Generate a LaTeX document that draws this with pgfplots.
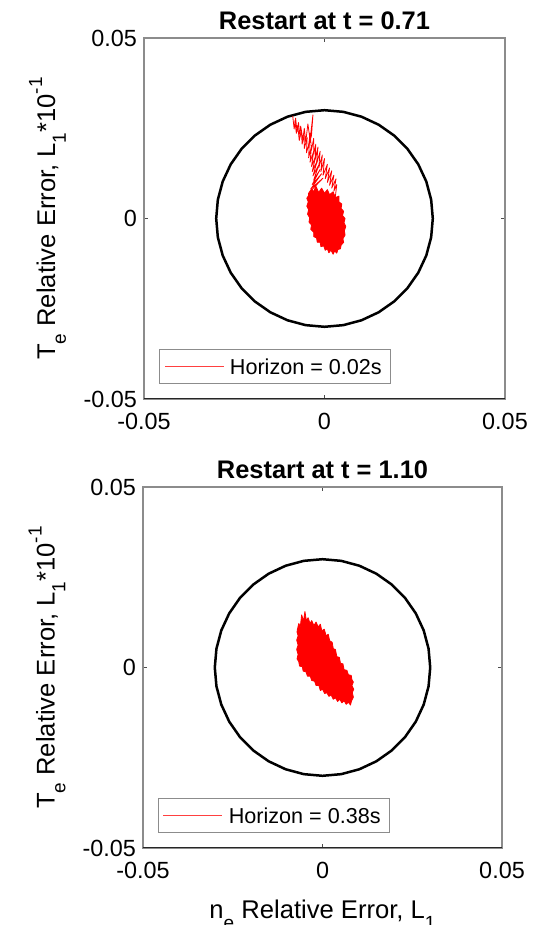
\documentclass[border=0pt]{standalone}
\usepackage{pgfplots}
\pgfplotsset{compat=1.18}
\usepackage{fontspec}
\setmainfont{Liberation Sans}
\definecolor{legred}{rgb}{1,0.25,0.25}

\newcommand{\lsub}[1]{\raisebox{-0.42em}{\fontsize{9.5}{10}\selectfont #1}}
\newcommand{\lsup}[1]{\raisebox{0.5em}{\fontsize{9.5}{10}\selectfont #1}}

\pgfplotsset{
  myaxis/.style={
    scale only axis,
    anchor=south west,
    scaled ticks=false,
    xmin=-0.05,xmax=0.05,ymin=-0.05,ymax=0.05,
    xtick={-0.05,0,0.05}, ytick={-0.05,0,0.05},
    xticklabels={-0.05,0,0.05}, yticklabels={-0.05,0,0.05},
    tick align=inside, major tick length=1.8pt,
    tick style={black!70, line width=0.5pt},
    axis line style={black!45, line width=0.6pt},
    tick label style={font=\fontsize{11.7}{12}\selectfont},
    xticklabel style={yshift=-3.6pt},
    title style={font=\bfseries\fontsize{12.7}{14}\selectfont, at={(axis description cs:0.5,1)}, anchor=base, yshift=-1.8pt},
    ylabel style={font=\fontsize{12.8}{14}\selectfont, at={(axis description cs:-0.2465,0.5)}, anchor=base},
    xlabel style={font=\fontsize{12.8}{14}\selectfont, at={(axis description cs:0.5,-0.1958)}, anchor=base},
    legend style={at={(axis description cs:0.0416,0.0416)}, anchor=south west, draw=black!45, line width=0.5pt,
      inner xsep=2.5pt, inner ysep=2.6pt, nodes={inner sep=2pt, text depth=0pt}, font=\fontsize{10.8}{11}\selectfont,
      /tikz/every odd column/.append style={column sep=1.2pt}},
    legend cell align=left,
    legend image code/.code={\fill[legred, draw=none] (0pt,-0.25pt) rectangle (29.5pt,0.35pt);},
  },
  traj/.style={color=red, draw=red, line width=0.4pt, line join=round, mark=none},
}

\pgfplotstableread{
x y
0.030000 0
0.029544 0.005209
0.028191 0.010261
0.025981 0.015
0.022981 0.019284
0.019284 0.022981
0.015 0.025981
0.010261 0.028191
0.005209 0.029544
0 0.03
-0.005209 0.029544
-0.010261 0.028191
-0.015 0.025981
-0.019284 0.022981
-0.022981 0.019284
-0.025981 0.015
-0.028191 0.010261
-0.029544 0.005209
-0.03 0
-0.029544 -0.005209
-0.028191 -0.010261
-0.025981 -0.015
-0.022981 -0.019284
-0.019284 -0.022981
-0.015 -0.025981
-0.010261 -0.028191
-0.005209 -0.029544
0 -0.03
0.005209 -0.029544
0.010261 -0.028191
0.015 -0.025981
0.019284 -0.022981
0.022981 -0.019284
0.025981 -0.015
0.028191 -0.010261
0.029544 -0.005209
0.030000 0
}\circledata

\begin{document}
\begin{tikzpicture}
\path[use as bounding box] (0,0) rectangle (270.5pt,462.5pt);

% ---------------- top panel ----------------
\begin{axis}[myaxis, at={(72pt,263pt)}, width=180.5pt, height=180.5pt,
  title={Restart at t = 0.71},
  ylabel={T\lsub{e} Relative Error, L\lsub{1}*10\lsup{-1}}]
\addplot[black, line width=1.25pt, forget plot] table {\circledata};
\addplot[traj, fill=red, forget plot] coordinates {
(-0.0044,0.0070) (-0.0036,0.0082) (-0.0030,0.0074) (-0.0024,0.0090) (-0.0016,0.0072)
(-0.0008,0.0084) (0.0000,0.0070) (0.0008,0.0080) (0.0014,0.0066) (0.0024,0.0074)
(0.0030,0.0058) (0.0040,0.0062) (0.0040,0.0046) (0.0048,0.0040) (0.0046,0.0028)
(0.0053,0.0020) (0.0050,0.0008) (0.0057,0.0000) (0.0054,-0.0012) (0.0059,-0.0022)
(0.0055,-0.0034) (0.0057,-0.0046) (0.0051,-0.0056) (0.0053,-0.0066) (0.0046,-0.0074)
(0.0044,-0.0084) (0.0037,-0.0086) (0.0034,-0.0096) (0.0028,-0.0090) (0.0024,-0.0099)
(0.0018,-0.0088) (0.0012,-0.0095) (0.0008,-0.0084) (0.0002,-0.0088) (-0.0002,-0.0076)
(-0.0010,-0.0078) (-0.0012,-0.0066) (-0.0020,-0.0066) (-0.0022,-0.0054) (-0.0030,-0.0050)
(-0.0030,-0.0038) (-0.0038,-0.0030) (-0.0036,-0.0018) (-0.0043,-0.0010) (-0.0041,0.0002)
(-0.0047,0.0012) (-0.0044,0.0024) (-0.0049,0.0034) (-0.0045,0.0046) (-0.0049,0.0056)
(-0.0044,0.0064)
} -- cycle;
\addplot[traj, forget plot] coordinates {
(-0.0082,0.0272) (-0.0078,0.0236) (-0.0074,0.0258) (-0.0070,0.0216) (-0.0064,0.0244)
(-0.0062,0.0206) (-0.0056,0.0232) (-0.0056,0.0194) (-0.0048,0.0224) (-0.0050,0.0182)
(-0.0042,0.0210) (-0.0044,0.0168) (-0.0036,0.0200) (-0.0040,0.0156) (-0.0030,0.0186)
(-0.0036,0.0144) (-0.0024,0.0174) (-0.0034,0.0130) (-0.0020,0.0160) (-0.0032,0.0118)
(-0.0016,0.0148) (-0.0030,0.0106) (-0.0012,0.0136) (-0.0034,0.0094) (-0.0008,0.0124)
(-0.0038,0.0082) (-0.0004,0.0112) (-0.0040,0.0074)
};
\addplot[traj] coordinates {
(-0.0088,0.0284) (-0.0084,0.0248) (-0.0080,0.0278) (-0.0076,0.0240) (-0.0072,0.0266)
(-0.0068,0.0226) (-0.0066,0.0256) (-0.0060,0.0218) (-0.0056,0.0250) (-0.0052,0.0212)
(-0.0046,0.0262) (-0.0040,0.0218) (-0.0032,0.0287) (-0.0036,0.0230) (-0.0044,0.0200)
(-0.0040,0.0236) (-0.0036,0.0190) (-0.0030,0.0222) (-0.0030,0.0178) (-0.0024,0.0206)
(-0.0026,0.0164) (-0.0018,0.0198) (-0.0022,0.0152) (-0.0012,0.0186) (-0.0016,0.0140)
(-0.0006,0.0176) (-0.0010,0.0130) (0.0000,0.0166) (-0.0004,0.0120) (0.0008,0.0150)
(0.0002,0.0110) (0.0014,0.0140) (0.0008,0.0100) (0.0020,0.0132) (0.0014,0.0092)
(0.0026,0.0120) (0.0020,0.0084) (0.0032,0.0110) (0.0026,0.0076) (0.0034,0.0094)
(0.0030,0.0060)
};
\addlegendentry{Horizon = 0.02s}
\draw[black!85, line width=0.6pt] (rel axis cs:0,0) -- (rel axis cs:1,0);
\end{axis}

% ---------------- bottom panel ----------------
\begin{axis}[myaxis, at={(71.5pt,38.5pt)}, width=179.5pt, height=180.5pt,
  title={Restart at t = 1.10},
  ylabel={T\lsub{e} Relative Error, L\lsub{1}*10\lsup{-1}},
  xlabel={n\lsub{e} Relative Error, L\lsub{1}}]
\addplot[black, line width=1.25pt, forget plot] table {\circledata};
\addplot[traj, fill=red] coordinates {
(-0.0070,0.0105) (-0.0066,0.0122) (-0.0062,0.0112) (-0.0058,0.0146) (-0.0053,0.0128)
(-0.0049,0.0155) (-0.0045,0.0130) (-0.0040,0.0138) (-0.0035,0.0122) (-0.0030,0.0130)
(-0.0024,0.0116) (-0.0018,0.0126) (-0.0012,0.0112) (-0.0006,0.0120) (-0.0002,0.0102)
(0.0005,0.0106) (0.0010,0.0088) (0.0016,0.0092) (0.0020,0.0074) (0.0027,0.0070)
(0.0030,0.0052) (0.0036,0.0050) (0.0040,0.0030) (0.0047,0.0028) (0.0050,0.0012)
(0.0057,0.0010) (0.0060,-0.0006) (0.0068,-0.0008) (0.0072,-0.0020) (0.0080,-0.0022)
(0.0082,-0.0034) (0.0086,-0.0040) (0.0082,-0.0050) (0.0087,-0.0060) (0.0083,-0.0070)
(0.0086,-0.0082) (0.0081,-0.0092) (0.0078,-0.0104) (0.0072,-0.0096) (0.0066,-0.0102)
(0.0060,-0.0092) (0.0054,-0.0098) (0.0048,-0.0088) (0.0042,-0.0094) (0.0036,-0.0084)
(0.0030,-0.0088) (0.0024,-0.0076) (0.0018,-0.0080) (0.0012,-0.0070) (0.0006,-0.0072)
(0.0000,-0.0060) (-0.0006,-0.0064) (-0.0010,-0.0050) (-0.0018,-0.0050) (-0.0022,-0.0038)
(-0.0030,-0.0036) (-0.0034,-0.0024) (-0.0042,-0.0024) (-0.0046,-0.0012) (-0.0054,-0.0010)
(-0.0056,0.0002) (-0.0064,0.0004) (-0.0066,0.0016) (-0.0071,0.0024) (-0.0068,0.0036)
(-0.0072,0.0050) (-0.0068,0.0062) (-0.0072,0.0076) (-0.0068,0.0088) (-0.0071,0.0098)
} -- cycle;
\addlegendentry{Horizon = 0.38s}
\draw[black!85, line width=0.6pt] (rel axis cs:0,0) -- (rel axis cs:1,0);
\end{axis}
\end{tikzpicture}
\end{document}
